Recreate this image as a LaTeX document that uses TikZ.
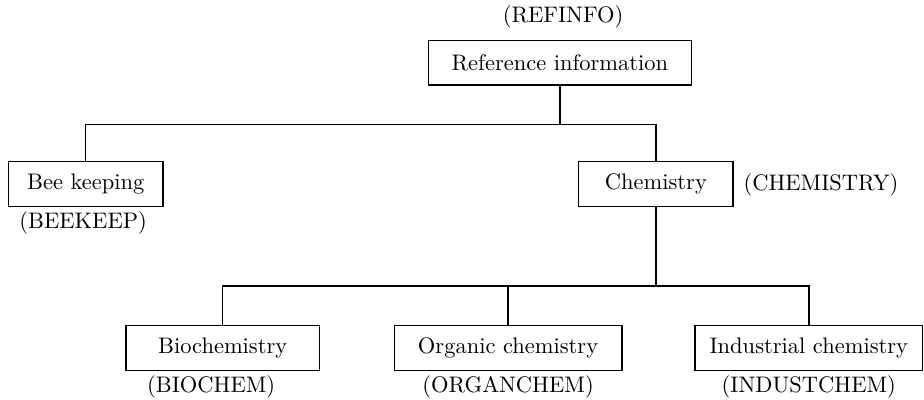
\documentclass[tikz,border=0pt]{standalone}
\usepackage{tikz}

\begin{document}
\begin{tikzpicture}[
    topic/.style={draw=black, line width=0.6pt, minimum height=0.7cm, inner sep=2pt},
    tag/.style={inner sep=1pt},
    link/.style={line width=0.6pt}
]
\useasboundingbox (0,0) rectangle (14.44,6.25);

% Top level
\node[topic, minimum width=4.11cm] (ref) at (8.75, 5.27) {Reference information};
\node[tag] (refinfo) at (8.80, 5.98) {(REFINFO)};

% Second level
\node[topic, minimum width=2.41cm] (bee) at (1.34, 3.375) {Bee keeping};
\node[tag] (beekeep) at (1.30, 2.77) {(BEEKEEP)};

\node[topic, minimum width=2.41cm] (chem) at (10.25, 3.375) {Chemistry};
\node[tag] (chemistry) at (12.83, 3.36) {(CHEMISTRY)};

% Third level
\node[topic, minimum width=3.02cm] (bio) at (3.48, 0.8125) {Biochemistry};
\node[tag] (biochem) at (3.30, 0.20) {(BIOCHEM)};

\node[topic, minimum width=3.56cm] (org) at (7.94, 0.8125) {Organic chemistry};
\node[tag] (organchem) at (7.94, 0.20) {(ORGANCHEM)};

\node[topic, minimum width=3.56cm] (ind) at (12.64, 0.8125) {Industrial chemistry};
\node[tag] (industchem) at (12.64, 0.20) {(INDUSTCHEM)};

% Branch points
\coordinate (j1) at (8.75, 4.30);
\coordinate (j2) at (10.25, 1.78);

% Connectors
\draw[link] (ref.south) -- (j1);
\draw[link] (bee.north) |- (j1) -| (chem.north);
\draw[link] (chem.south) -- (j2);
\draw[link] (bio.north) |- (j2) -| (ind.north);
\draw[link] (org.north) -- (org.north |- j2);

\end{tikzpicture}
\end{document}
